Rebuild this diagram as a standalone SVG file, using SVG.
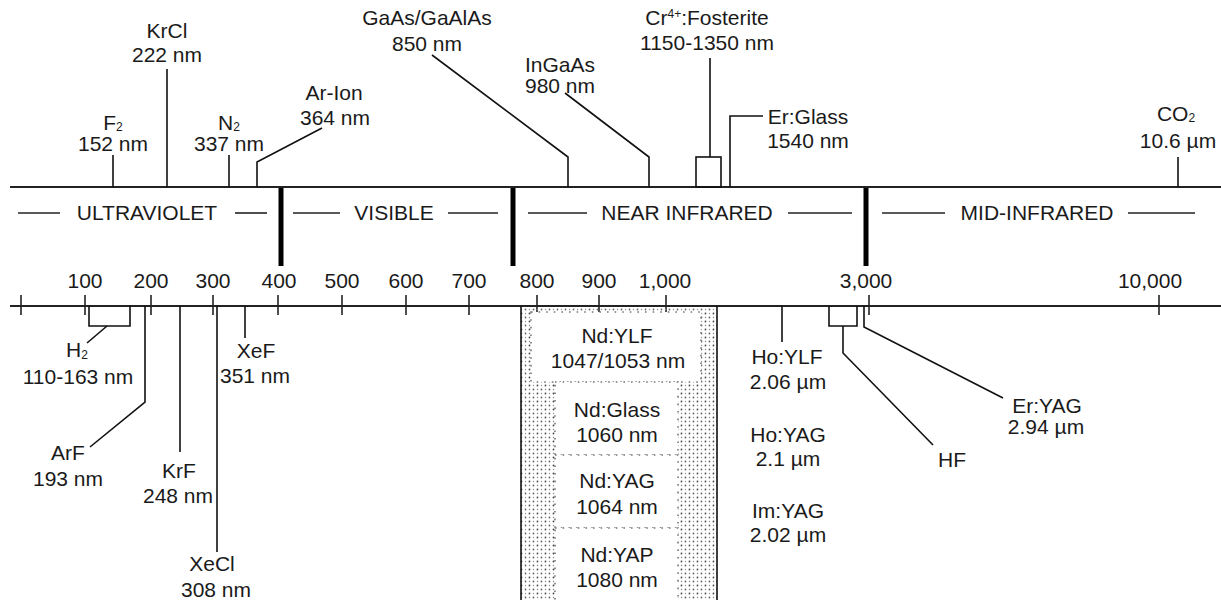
<svg xmlns="http://www.w3.org/2000/svg" width="1221" height="600" viewBox="0 0 1221 600">
<style>
text{font-family:"Liberation Sans",Arial,sans-serif;font-size:21px;fill:#1a1a1a;text-anchor:middle}
.sub{font-size:12px}
.ln{stroke:#111;stroke-width:1.6;fill:none}
.ax{stroke:#222;stroke-width:2;fill:none}
.div{stroke:#000;stroke-width:5}
.dash{stroke:#222;stroke-width:1.6}
.tk{stroke:#222;stroke-width:1.6}
.box{fill:#fff;stroke:#777;stroke-width:1.6;stroke-dasharray:1.6 6}
</style>
<defs>
<pattern id="stip" x="0" y="0" width="8" height="8" patternUnits="userSpaceOnUse">
<circle cx="1.5" cy="1.5" r="0.9" fill="#444"/>
<circle cx="5.5" cy="5.5" r="0.9" fill="#666"/>
<circle cx="5.5" cy="1.5" r="0.7" fill="#999"/>
<circle cx="1.5" cy="5.5" r="0.7" fill="#888"/>
</pattern>
</defs>
<rect width="1221" height="600" fill="#fff"/>

<g id="axes">
<line class="ax" x1="10" y1="187" x2="1221" y2="187"/>
<line class="ax" x1="10" y1="306" x2="1221" y2="306"/>
<g id="ticks">
<line class="tk" x1="21" y1="295" x2="21" y2="315"/>
<line class="tk" x1="85" y1="295" x2="85" y2="315"/>
<line class="tk" x1="151" y1="295" x2="151" y2="315"/>
<line class="tk" x1="213" y1="295" x2="213" y2="315"/>
<line class="tk" x1="278" y1="295" x2="278" y2="315"/>
<line class="tk" x1="342" y1="295" x2="342" y2="315"/>
<line class="tk" x1="406" y1="295" x2="406" y2="315"/>
<line class="tk" x1="469" y1="295" x2="469" y2="315"/>
<line class="tk" x1="537" y1="295" x2="537" y2="315"/>
<line class="tk" x1="599" y1="295" x2="599" y2="315"/>
<line class="tk" x1="666" y1="295" x2="666" y2="315"/>
<line class="tk" x1="869" y1="295" x2="869" y2="315"/>
<line class="tk" x1="1159" y1="295" x2="1159" y2="315"/>
</g>
<g id="tick-labels">
<text x="85" y="288">100</text>
<text x="151" y="288">200</text>
<text x="213" y="288">300</text>
<text x="279" y="288">400</text>
<text x="342" y="288">500</text>
<text x="406" y="288">600</text>
<text x="469" y="288">700</text>
<text x="537" y="288">800</text>
<text x="599" y="288">900</text>
<text x="665" y="288">1,000</text>
<text x="866" y="288">3,000</text>
<text x="1150" y="288">10,000</text>
</g>
</g>

<g id="bands">
<line class="div" x1="281" y1="188" x2="281" y2="266"/>
<line class="div" x1="513" y1="188" x2="513" y2="266"/>
<line class="div" x1="866" y1="188" x2="866" y2="266"/>
<line class="dash" x1="18" y1="213" x2="60" y2="213"/>
<line class="dash" x1="235" y1="213" x2="267" y2="213"/>
<line class="dash" x1="293" y1="213" x2="340" y2="213"/>
<line class="dash" x1="448" y1="213" x2="498" y2="213"/>
<line class="dash" x1="528" y1="213" x2="587" y2="213"/>
<line class="dash" x1="788" y1="213" x2="852" y2="213"/>
<line class="dash" x1="882" y1="213" x2="945" y2="213"/>
<line class="dash" x1="1128" y1="213" x2="1195" y2="213"/>
<text x="147" y="220">ULTRAVIOLET</text>
<text x="394" y="220">VISIBLE</text>
<text x="687" y="220">NEAR INFRARED</text>
<text x="1037" y="220">MID-INFRARED</text>
</g>

<g id="connectors">
<line class="ln" x1="113" y1="155" x2="113" y2="187"/>
<line class="ln" x1="167" y1="69" x2="167" y2="187"/>
<line class="ln" x1="229" y1="155" x2="229" y2="187"/>
<polyline class="ln" points="257,187 257,162 322,128"/>
<polyline class="ln" points="568,187 568,157 432,55"/>
<polyline class="ln" points="649,187 649,157 565,93"/>
<rect class="ln" x="696" y="157" width="25" height="30"/>
<line class="ln" x1="710" y1="58" x2="710" y2="157"/>
<polyline class="ln" points="730,187 730,116 763,116"/>
<line class="ln" x1="1178" y1="157" x2="1178" y2="187"/>
<polyline class="ln" points="89,306 89,326 130,326 130,306"/>
<line class="ln" x1="107" y1="326" x2="87" y2="343"/>
<polyline class="ln" points="145,306 145,402 90,447"/>
<line class="ln" x1="180" y1="306" x2="180" y2="452"/>
<line class="ln" x1="217" y1="306" x2="217" y2="552"/>
<line class="ln" x1="245" y1="306" x2="245" y2="338"/>
<line class="ln" x1="782" y1="306" x2="782" y2="342"/>
<polyline class="ln" points="829,306 829,326 857,326 857,306"/>
<polyline class="ln" points="843,326 843,353 933,445"/>
<polyline class="ln" points="864,306 864,327 1003,398"/>
</g>

<g id="nd-block">
<rect x="521" y="307" width="196" height="293" fill="url(#stip)"/>
<line class="ln" x1="521" y1="306" x2="521" y2="600"/>
<line class="ln" x1="717" y1="306" x2="717" y2="600" stroke="#555" stroke-width="2.2"/>
<rect class="box" x="531" y="312" width="170" height="70"/>
<rect class="box" x="555" y="382" width="123" height="73"/>
<rect class="box" x="555" y="455" width="123" height="73"/>
<rect class="box" x="555" y="528" width="123" height="80"/>
</g>

<g id="n-f2"><text x="113" y="130">F<tspan class="sub" dy="1">2</tspan></text><text x="113" y="151">152 nm</text></g>
<g id="n-krcl"><text x="167" y="38">KrCl</text><text x="167" y="62">222 nm</text></g>
<g id="n-n2"><text x="229" y="130">N<tspan class="sub" dy="1">2</tspan></text><text x="229" y="151">337 nm</text></g>
<g id="n-arion"><text x="334" y="100">Ar-Ion</text><text x="335" y="125">364 nm</text></g>
<g id="n-gaas"><text x="427" y="25">GaAs/GaAlAs</text><text x="427" y="51">850 nm</text></g>
<g id="n-ingaas"><text x="560" y="72">InGaAs</text><text x="560" y="93">980 nm</text></g>
<g id="n-cr"><text x="707" y="25">Cr<tspan class="sub" dy="-7">4+</tspan><tspan dy="7">:Fosterite</tspan></text><text x="707" y="50">1150-1350 nm</text></g>
<g id="n-erglass"><text x="808" y="124">Er:Glass</text><text x="808" y="148">1540 nm</text></g>
<g id="n-co2"><text x="1176" y="121">CO<tspan class="sub" dy="1">2</tspan></text><text x="1178" y="148">10.6 µm</text></g>

<g id="n-h2"><text x="77" y="357">H<tspan class="sub" dy="2">2</tspan></text><text x="78" y="384">110-163 nm</text></g>
<g id="n-arf"><text x="68" y="460">ArF</text><text x="68" y="486">193 nm</text></g>
<g id="n-krf"><text x="179" y="478">KrF</text><text x="178" y="503">248 nm</text></g>
<g id="n-xecl"><text x="212" y="571">XeCl</text><text x="216" y="597">308 nm</text></g>
<g id="n-xef"><text x="256" y="358">XeF</text><text x="255" y="383">351 nm</text></g>

<g id="n-ndylf"><text x="617" y="343">Nd:YLF</text><text x="618" y="368">1047/1053 nm</text></g>
<g id="n-ndglass"><text x="617" y="417">Nd:Glass</text><text x="617" y="442">1060 nm</text></g>
<g id="n-ndyag"><text x="617" y="488">Nd:YAG</text><text x="617" y="514">1064 nm</text></g>
<g id="n-ndyap"><text x="617" y="562">Nd:YAP</text><text x="617" y="587">1080 nm</text></g>

<g id="n-hoylf"><text x="787" y="364">Ho:YLF</text><text x="788" y="389">2.06 µm</text></g>
<g id="n-hoyag"><text x="788" y="442">Ho:YAG</text><text x="788" y="466">2.1 µm</text></g>
<g id="n-imyag"><text x="788" y="518">Im:YAG</text><text x="788" y="542">2.02 µm</text></g>
<g id="n-hf"><text x="952" y="467">HF</text></g>
<g id="n-eryag"><text x="1047" y="413">Er:YAG</text><text x="1046" y="434">2.94 µm</text></g>
</svg>
